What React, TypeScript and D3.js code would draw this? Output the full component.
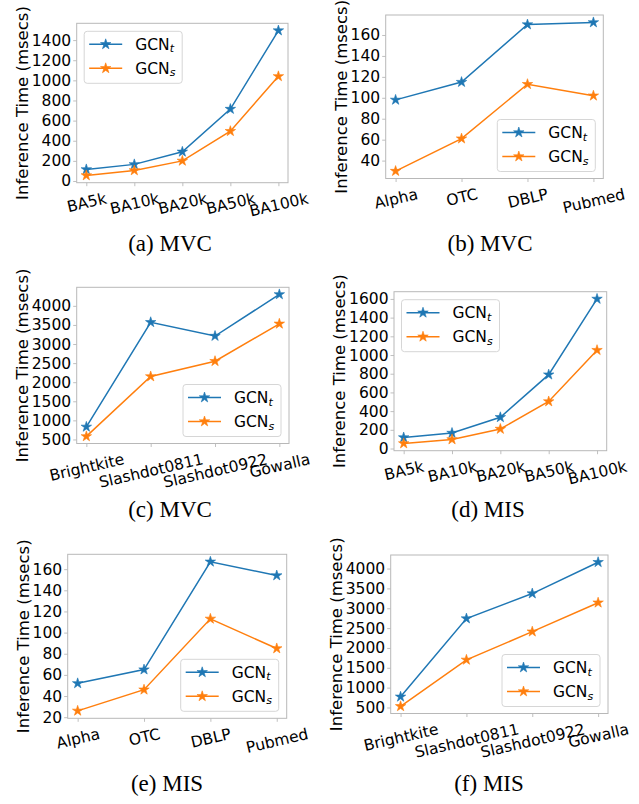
import React, { useEffect, useRef } from "react";
import * as d3 from "d3";

// categories
const baCats = ["BA5k", "BA10k", "BA20k", "BA50k", "BA100k"];
const realCats = ["Alpha", "OTC", "DBLP", "Pubmed"];
const largeCats = ["Brightkite", "Slashdot0811", "Slashdot0922", "Gowalla"];

// inference times (msecs)
const mvcBaT = [115, 165, 290, 715, 1495];
const mvcBaS = [55, 105, 200, 495, 1040];
const mvcRealT = [98, 115, 170, 172];
const mvcRealS = [30, 61, 113, 102];
const mvcLargeT = [830, 3570, 3210, 4300];
const mvcLargeS = [580, 2150, 2550, 3530];
const misBaT = [118, 166, 334, 790, 1600];
const misBaS = [54, 97, 209, 503, 1052];
const misRealT = [52, 65, 167, 154];
const misRealS = [26, 46, 113, 85];
const misLargeT = [770, 2740, 3370, 4160];
const misLargeS = [530, 1700, 2410, 3140];

// y tick labels
const ticksBa = [0, 200, 400, 600, 800, 1000, 1200, 1400];
const ticksBa2 = [0, 200, 400, 600, 800, 1000, 1200, 1400, 1600];
const ticksReal = [40, 60, 80, 100, 120, 140, 160];
const ticksReal2 = [20, 40, 60, 80, 100, 120, 140, 160];
const ticksLarge = [500, 1000, 1500, 2000, 2500, 3000, 3500, 4000];

const BLUE = "#1f77b4";
const ORANGE = "#ff7f0e";
const FONT = "'DejaVu Sans', Verdana, sans-serif";
const TICK_FS = 15.5;

const panels = [
  { cats: baCats, t: mvcBaT, s: mvcBaS, ticks: ticksBa, caption: "(a) MVC", box: [76.7, 288, 23.3, 182.7], legend: "ul", cap: [170, 250.7] },
  { cats: realCats, t: mvcRealT, s: mvcRealS, ticks: ticksReal, caption: "(b) MVC", box: [385.7, 603.3, 15, 178.5], legend: "lr", cap: [490, 250.7] },
  { cats: largeCats, t: mvcLargeT, s: mvcLargeS, ticks: ticksLarge, caption: "(c) MVC", box: [76.7, 289, 287.3, 443.5], legend: "lr", cap: [170, 517.3] },
  { cats: baCats, t: misBaT, s: misBaS, ticks: ticksBa2, caption: "(d) MIS", box: [394, 606.7, 291.7, 450.7], legend: "ul", cap: [488, 517.3] },
  { cats: realCats, t: misRealT, s: misRealS, ticks: ticksReal2, caption: "(e) MIS", box: [67.7, 286.7, 554.3, 718.3], legend: "lr", cap: [167, 790.7] },
  { cats: largeCats, t: misLargeT, s: misLargeS, ticks: ticksLarge, caption: "(f) MIS", box: [390.7, 608, 555, 713.5], legend: "lr", cap: [489, 790.7] },
];

function starPath(R: number) {
  const r = R * 0.382;
  const pts: [number, number][] = [];
  for (let k = 0; k < 10; k++) {
    const a = -Math.PI / 2 + (k * Math.PI) / 5;
    const rr = k % 2 === 0 ? R : r;
    pts.push([rr * Math.cos(a), rr * Math.sin(a)]);
  }
  return "M" + pts.map((p) => p[0].toFixed(2) + "," + p[1].toFixed(2)).join("L") + "Z";
}

function drawPanel(svg: any, p: any) {
  const [x0, x1, y0, y1] = p.box;
  const n = p.cats.length;
  const x = d3.scaleLinear().domain([-0.05 * (n - 1), 1.05 * (n - 1)]).range([x0, x1]);
  const all = p.t.concat(p.s);
  const lo = d3.min(all) as number;
  const hi = d3.max(all) as number;
  const pad = (hi - lo) * 0.05;
  const y = d3.scaleLinear().domain([lo - pad, hi + pad]).range([y1, y0]);

  const g = svg.append("g");

  // x axis
  const xa = g.append("g").attr("transform", `translate(0,${y1})`)
    .call(d3.axisBottom(x).tickValues(d3.range(n)).tickFormat((i: any) => p.cats[i]).tickSize(3.5));
  xa.select(".domain").remove();
  xa.selectAll("line").attr("stroke", "#b0b0b0").attr("stroke-width", 0.8);
  const theta = (13 * Math.PI) / 180;
  xa.selectAll("text")
    .attr("font-family", FONT).attr("font-size", TICK_FS).attr("fill", "#000")
    .attr("y", 0).attr("dy", null)
    .attr("dominant-baseline", "central")
    .each(function (this: SVGTextElement) {
      const w = this.getComputedTextLength();
      const hb = w * Math.sin(theta) + TICK_FS * Math.cos(theta);
      d3.select(this).attr("transform", `translate(0,${8 + hb / 2}) rotate(-13)`);
    });

  // y axis
  const ya = g.append("g").attr("transform", `translate(${x0},0)`)
    .call(d3.axisLeft(y).tickValues(p.ticks).tickFormat(d3.format("d")).tickSize(3.5).tickPadding(2));
  ya.select(".domain").remove();
  ya.selectAll("line").attr("stroke", "#b0b0b0").attr("stroke-width", 0.8);
  let maxW = 0;
  ya.selectAll("text").attr("font-family", FONT).attr("font-size", TICK_FS).attr("fill", "#000")
    .attr("dy", null).attr("dominant-baseline", "central")
    .each(function (this: SVGTextElement) {
      maxW = Math.max(maxW, this.getComputedTextLength());
    });

  const lx = x0 - 5.5 - maxW - 9.5;
  g.append("text")
    .attr("transform", `translate(${lx},${(y0 + y1) / 2}) rotate(-90)`)
    .attr("text-anchor", "middle").attr("dominant-baseline", "central")
    .attr("font-family", FONT).attr("font-size", 16.5).attr("fill", "#000")
    .text("Inference Time (msecs)");

  // frame
  g.append("rect").attr("x", x0).attr("y", y0).attr("width", x1 - x0).attr("height", y1 - y0)
    .attr("fill", "none").attr("stroke", "#b8b8b8").attr("stroke-width", 1);

  const line = d3.line<number>().x((_d, i) => x(i)).y((d) => y(d));
  const star = starPath(5.5);
  [[p.t, BLUE], [p.s, ORANGE]].forEach(([vals, col]: any) => {
    g.append("path").attr("d", line(vals)).attr("fill", "none").attr("stroke", col).attr("stroke-width", 1.5);
    g.selectAll(null).data(vals).enter().append("path")
      .attr("d", star)
      .attr("transform", (d: number, i: number) => `translate(${x(i)},${y(d)})`)
      .attr("fill", col).attr("stroke", col).attr("stroke-width", 0.6);
  });

  // legend
  const lw = 98, lh = 52;
  const lgx = p.legend === "ul" ? x0 + 7.5 : x1 - 8 - lw;
  const lgy = p.legend === "ul" ? y0 + 8 : y1 - 7 - lh;
  const lg = g.append("g").attr("transform", `translate(${lgx},${lgy})`);
  lg.append("rect").attr("width", lw).attr("height", lh).attr("rx", 3)
    .attr("fill", "#fff").attr("fill-opacity", 0.8).attr("stroke", "#d6d6d6").attr("stroke-width", 1);
  [["t", BLUE, 13], ["s", ORANGE, 37]].forEach(([sub, col, ey]: any) => {
    lg.append("line").attr("x1", 5).attr("x2", 38).attr("y1", ey).attr("y2", ey)
      .attr("stroke", col).attr("stroke-width", 1.5);
    lg.append("path").attr("d", star).attr("transform", `translate(21.5,${ey})`)
      .attr("fill", col).attr("stroke", col).attr("stroke-width", 0.6);
    const tx = lg.append("text").attr("x", 51).attr("y", ey + 5.6)
      .attr("font-family", FONT).attr("font-size", 15.5).attr("fill", "#000");
    tx.append("tspan").text("GCN");
    tx.append("tspan").attr("font-style", "italic").attr("font-size", 11).attr("dy", 2.5).text(sub);
  });

  // caption
  g.append("text").attr("x", p.cap[0]).attr("y", p.cap[1])
    .attr("text-anchor", "middle").attr("font-family", "'Liberation Serif', serif").attr("font-size", 23)
    .attr("fill", "#000").text(p.caption);
}

export default function App() {
  const svgRef = useRef<SVGSVGElement>(null);

  useEffect(() => {
    const svg = d3.select(svgRef.current);
    svg.selectAll("*").remove();
    panels.forEach((p) => drawPanel(svg, p));
  }, []);

  return (
    <svg
      ref={svgRef}
      width={639}
      height={804}
      style={{ position: "absolute", left: 0, top: 0, background: "#fff" }}
    />
  );
}
